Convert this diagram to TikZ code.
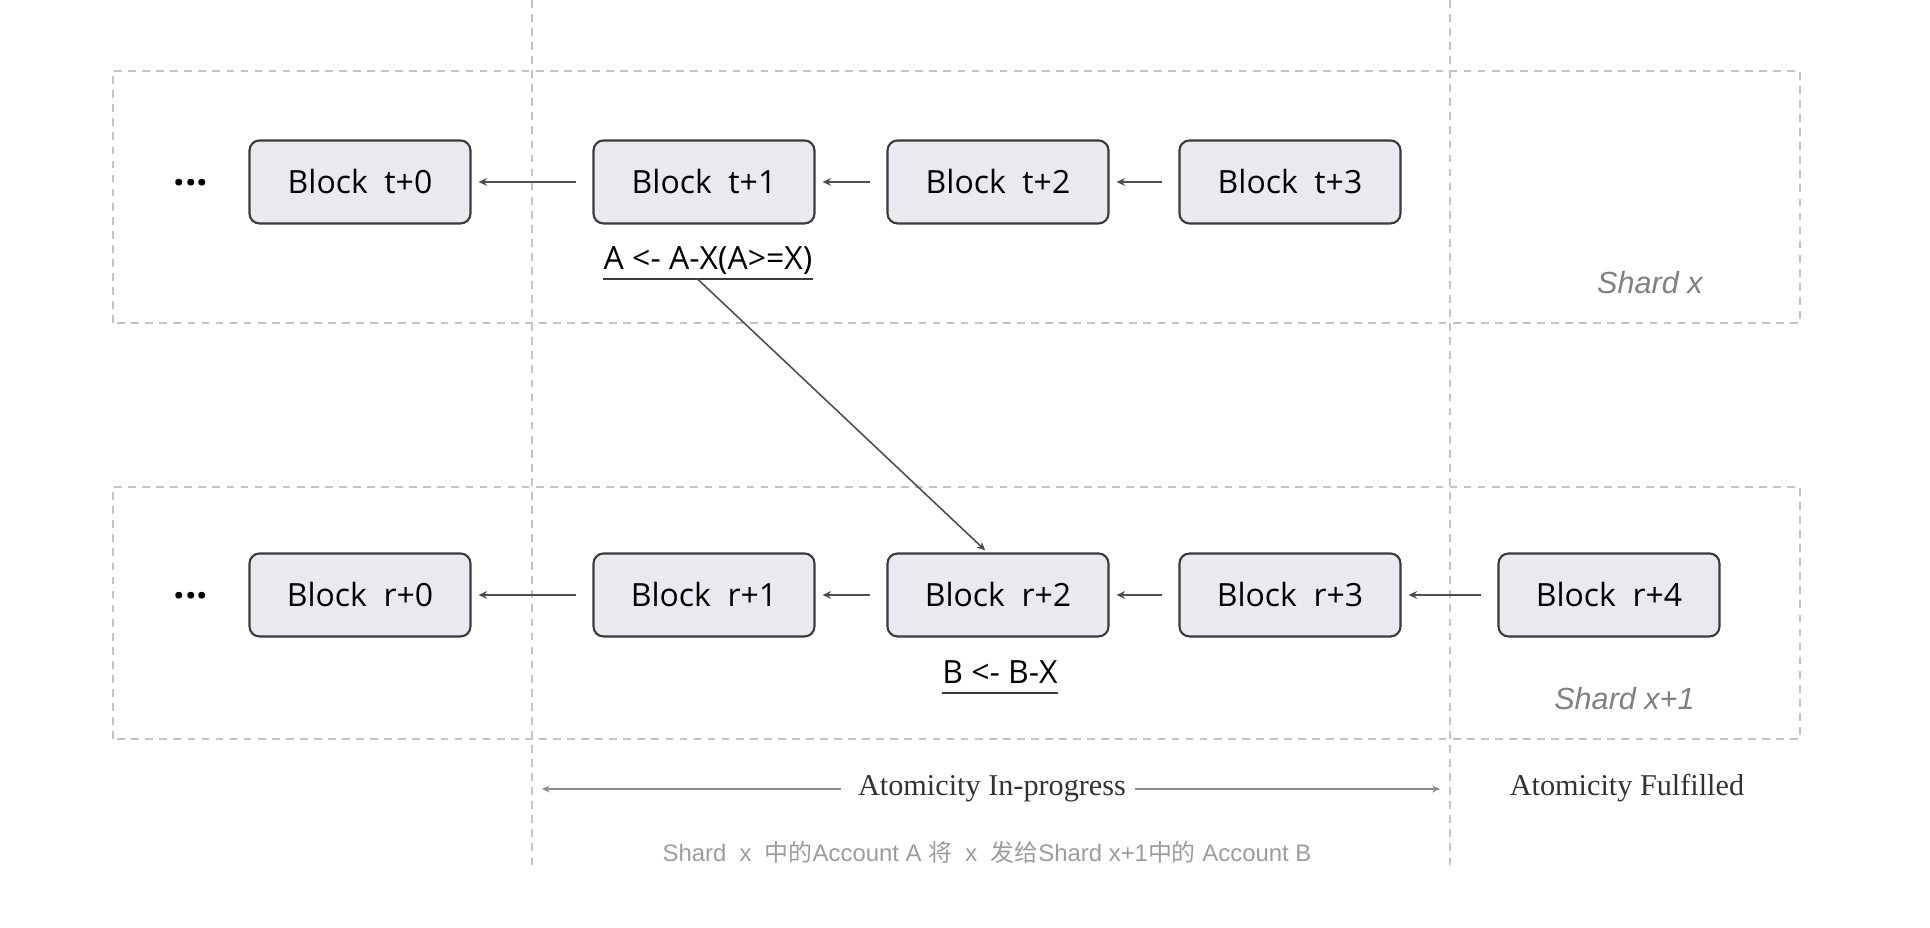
\documentclass[tikz,border=0pt]{standalone}
\usepackage{fontspec}
\usepackage{xcolor}
\usetikzlibrary{arrows.meta,calc,positioning}
\newfontfamily\blockfont{Open Sans}
\newfontfamily\shardfont{Liberation Sans}
\newfontfamily\atomfont{Liberation Serif}
\newfontfamily\cjkfont{Noto Sans CJK SC}
\definecolor{blockfill}{HTML}{E9EAEF}
\definecolor{blockdraw}{HTML}{3A3A3A}
\definecolor{dashgray}{HTML}{C4C4C4}
\definecolor{shardgray}{HTML}{808080}
\definecolor{notegray}{HTML}{9C9C9C}
\tikzset{
  block/.style={
    shape = rectangle,
    rounded corners = 1mm,
    draw = blockdraw,
    fill = blockfill,
    line width = 0.6pt,
    minimum width = 2.21cm,
    minimum height = 0.83cm,
    font = \blockfont\fontsize{9.1}{11}\selectfont
  },
  dots/.style={
    font = \blockfont\bfseries\fontsize{11.5}{13}\selectfont
  },
  link/.style={
    draw = blockdraw!90,
    line width = 0.45pt,
    -{Stealth[length=2.4pt,width=2.2pt]},
    shorten < = 1.6mm,
    shorten > = 0.7mm
  },
  shardbox/.style={
    draw = dashgray,
    line width = 0.45pt,
    dash pattern = on 2.2pt off 1.8pt
  },
  change/.style={
    anchor = south,
    font = \blockfont\fontsize{9.1}{11}\selectfont,
    text depth = 0pt,
    inner xsep = 0pt,
    inner ysep = 2.5pt
  },
  shardname/.style={
    anchor = base east,
    text = shardgray,
    font = \shardfont\itshape\fontsize{8.7}{10}\selectfont
  },
  phase/.style={
    anchor = base,
    text = black!80,
    font = \atomfont\fontsize{8.6}{10}\selectfont
  },
  span/.style={
    draw = black!45,
    line width = 0.35pt,
    -{Stealth[length=2.2pt,width=2pt]}
  }
}

\begin{document}
\begin{tikzpicture}
\useasboundingbox (0,0) rectangle (19.30,9.28);

       % shards and phase borders
       \draw[shardbox] (1.13,6.05) rectangle (18.00,8.57);
       \draw[shardbox] (1.13,1.89) rectangle (18.00,4.41);
       \draw[shardbox] (5.32,9.28) -- (5.32,0.60);
       \draw[shardbox] (14.50,9.28) -- (14.50,0.60);

       % shard x
       \node[dots] (tdots) at (1.91,7.45) {...};
       \node[block] (t0) at (3.60,7.46) {Block~~t+0};
       \node[block] (t1) at (7.04,7.46) {Block~~t+1};
       \node[block] (t2) at (9.98,7.46) {Block~~t+2};
       \node[block] (t3) at (12.90,7.46) {Block~~t+3};

       \draw[link] (t1) -- (t0);
       \draw[link] (t2) -- (t1);
       \draw[link] (t3) -- (t2);

       \node[change] (la) at (7.08,6.49) {A <- A-X(A>=X)};
       \draw[blockdraw, line width=0.55pt] (la.south west) -- (la.south east);

       \node[shardname] (sx) at (17.15,6.34) {Shard x};

       % shard x+1
       \node[dots] (rdots) at (1.91,3.32) {...};
       \node[block] (r0) at (3.60,3.33) {Block~~r+0};
       \node[block] (r1) at (7.04,3.33) {Block~~r+1};
       \node[block] (r2) at (9.98,3.33) {Block~~r+2};
       \node[block] (r3) at (12.90,3.33) {Block~~r+3};
       \node[block] (r4) at (16.09,3.33) {Block~~r+4};

       \draw[link] (r1) -- (r0);
       \draw[link] (r2) -- (r1);
       \draw[link] (r3) -- (r2);
       \draw[link] (r4) -- (r3);

       \node[change] (lb) at (10.00,2.35) {B <- B-X};
       \draw[blockdraw, line width=0.55pt] (lb.south west) -- (lb.south east);

       \node[shardname] (sx1) at (17.07,2.18) {Shard x+1};

       % cross-shard transfer
       \coordinate (xfer) at ($(la.south west)!0.45!(la.south east)$);
       \draw[link, shorten <=0pt, shorten >=0.3mm] (xfer) -- (r2.104);

       % phases
       \node[phase] (prog) at (9.92,1.32) {Atomicity In-progress};
       \node[phase] (done) at (16.27,1.32) {Atomicity Fulfilled};
       \coordinate (pl) at (5.42,1.39);
       \coordinate (pr) at (14.40,1.39);
       \draw[span] ([xshift=-0.5mm]prog.west |- pl) -- (pl);
       \draw[span] ([xshift=-0.3mm]prog.east |- pr) -- (pr);

       \node[anchor=base, text=notegray, font=\shardfont\fontsize{6.8}{8}\selectfont] (note) at (9.87,0.66)
         {Shard~~x~~{\cjkfont 中的}Account A {\cjkfont 将}~~x~~{\cjkfont 发给}Shard x+1{\cjkfont 中的} Account B};
\end{tikzpicture}
\end{document}
